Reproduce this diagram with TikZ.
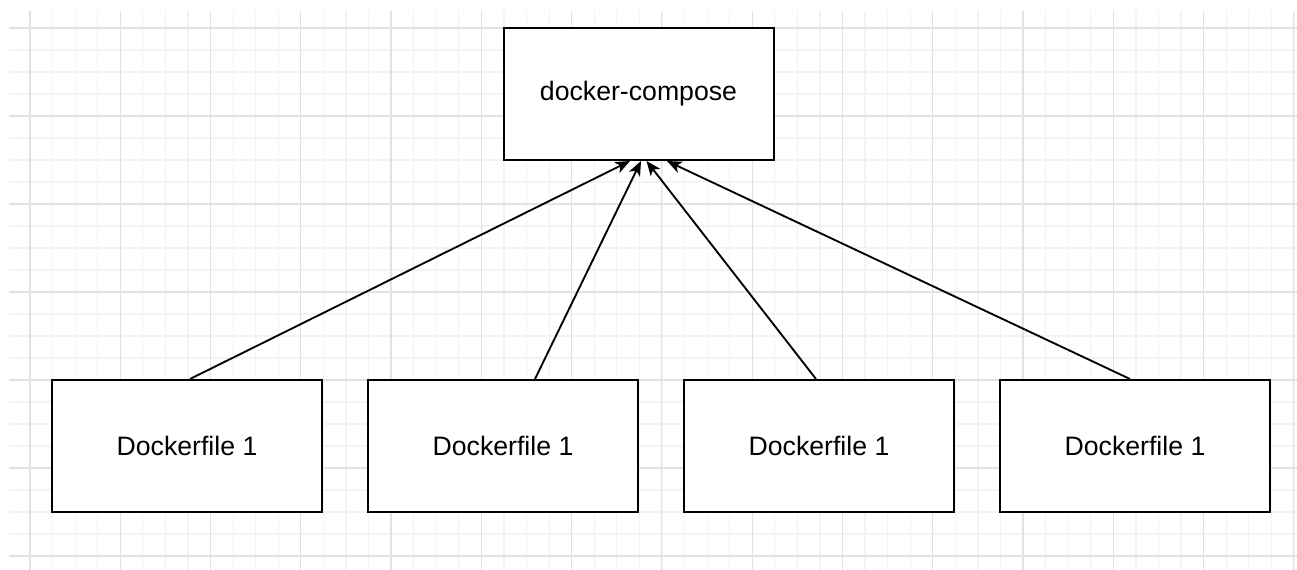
\documentclass[tikz,border=0pt]{standalone}
\usepackage{fontspec}
\setmainfont{Liberation Sans}
\usetikzlibrary{arrows.meta,calc}
\definecolor{gridmajor}{RGB}{226,226,226}
\definecolor{gridminor}{RGB}{243,243,243}
\tikzset{
  filebox/.style={draw, line width=1.5pt, fill=white, minimum width=202.5pt, minimum height=99pt, inner sep=0pt, font=\fontsize{20}{24}\selectfont},
  uses/.style={line width=1.4pt, -{Stealth[length=11pt,width=9pt,inset=3pt]}}
}
\begin{document}
\begin{tikzpicture}[x=0.75pt,y=0.75pt,yscale=-1,xscale=1]
\useasboundingbox (0,0) rectangle (1297,570);
\fill[white] (0,0) rectangle (1297,570);

%Grid
\foreach \i in {0,...,56} {
  \draw[gridminor, line width=0.9pt] ({30+22.57*\i},11) -- ({30+22.57*\i},570);
}
\foreach \j in {0,...,24} {
  \draw[gridminor, line width=0.9pt] (9,{28+22*\j}) -- (1297,{28+22*\j});
}
\foreach \i in {0,...,14} {
  \draw[gridmajor, line width=0.9pt] ({30+90.27*\i},11) -- ({30+90.27*\i},570);
}
\foreach \j in {0,...,6} {
  \draw[gridmajor, line width=0.9pt] (9,{28+88*\j}) -- (1297,{28+88*\j});
}

% Boxes
\node[filebox] (compose) at (638.5,94) {docker-compose};
\node[filebox] (file1) at (187,446) {Dockerfile 1};
\node[filebox] (file2) at (503,446) {Dockerfile 1};
\node[filebox] (file3) at (819,446) {Dockerfile 1};
\node[filebox] (file4) at (1135,446) {Dockerfile 1};

% Arrows
\draw[uses] ($(file1.north)+(3,0)$) -- ($(compose.south)+(-8.5,0)$);
\draw[uses] ($(file2.north)+(32,0)$) -- ($(compose.south)+(2.5,0)$);
\draw[uses] ($(file3.north)+(-3,0)$) -- ($(compose.south)+(8,0)$);
\draw[uses] ($(file4.north)+(-5,0)$) -- ($(compose.south)+(28.5,0)$);

\end{tikzpicture}
\end{document}
